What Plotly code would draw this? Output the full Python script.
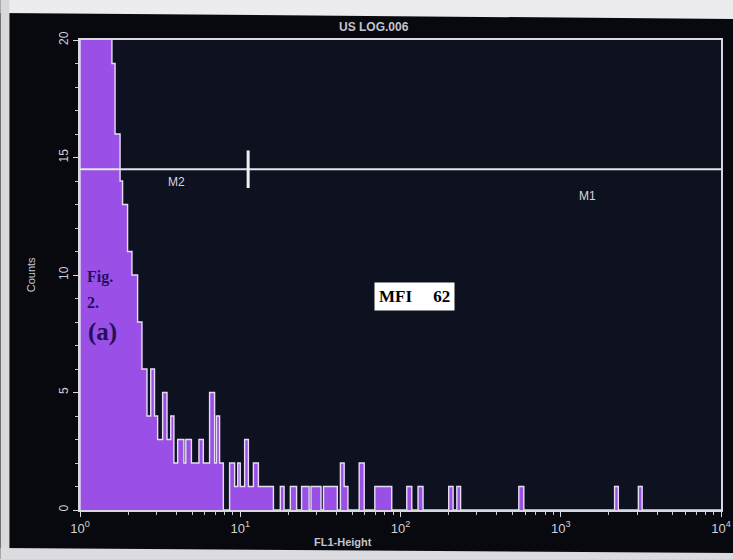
import numpy as np
import plotly.graph_objects as go

W, H = 743, 559
ML, MR, MT, MB = 80, 18, 40, 49
PW, PH = W - ML - MR, H - MT - MB

# ---- data: histogram runs (start channel of 1024 log channels, counts) ----
run_start_channel = [0, 51, 56, 64, 68, 76, 83, 92, 99, 107, 113, 119, 124, 132, 139, 145,
                     150, 156, 166, 169, 178, 190, 197, 207, 215, 218, 223, 229, 239, 247,
                     252, 256, 263, 269, 277, 285, 309, 320, 326, 336, 346, 354, 366, 369,
                     385, 389, 411, 416, 422, 428, 446, 454, 471, 498, 522, 530, 540, 548,
                     589, 596, 602, 608, 701, 709, 854, 860, 892, 898]
run_counts = [45, 19, 16, 14, 13, 11, 10, 8, 6, 4, 6, 4, 3, 5, 3, 4,
              2, 3, 2, 3, 2, 3, 2, 5, 2, 4, 2, 0, 2, 1,
              2, 1, 3, 1, 2, 1, 0, 1, 0, 1, 0, 1, 0, 1,
              0, 1, 0, 2, 1, 0, 2, 0, 1, 0, 1, 0, 1, 0,
              1, 0, 1, 0, 1, 0, 1, 0, 1, 0]
n_channels = 1024
channels_per_decade = 256

# markers (gates)
marker_level = 14.5
marker_split = 11.2
marker_labels = ["M2", "M1"]
marker_label_pos = [(0.6, 13.95), (3.17, 13.35)]  # (log10 FL1, counts)

y_ticks = [0, 5, 10, 15, 20]
x_ticks = [1, 10, 100, 1000, 10000]
x_ticklabels = ["10<sup>0</sup>", "10<sup>1</sup>", "10<sup>2</sup>", "10<sup>3</sup>", "10<sup>4</sup>"]

title_text = "US LOG.006"
x_title = "FL1-Height"
y_title = "Counts"
mfi_text = "MFI&nbsp;&nbsp;&nbsp;&nbsp;&nbsp;62"

# ---- build step outline ----
ends = run_start_channel[1:] + [n_channels]
xs, ys = [1.0], [0]
for s, e, c in zip(run_start_channel, ends, run_counts):
    xs += [10 ** (s / channels_per_decade), 10 ** (e / channels_per_decade)]
    ys += [c, c]
xs.append(10 ** (n_channels / channels_per_decade))
ys.append(0)

fig = go.Figure()
fig.add_trace(go.Scatter(x=xs, y=ys, mode="lines", fill="tozeroy",
                         fillcolor="#9a4fe6", line=dict(color="#e6dcf2", width=1.4),
                         hoverinfo="skip"))
fig.add_trace(go.Scatter(x=[1, 10000], y=[marker_level, marker_level], mode="lines",
                         line=dict(color="#e4e4ec", width=2), hoverinfo="skip"))
fig.add_trace(go.Scatter(x=[marker_split, marker_split], y=[marker_level - 0.8, marker_level + 0.8],
                         mode="lines", line=dict(color="#f0f0f4", width=3), hoverinfo="skip"))

minor_x = [m * 10 ** k for k in range(4) for m in range(2, 10)]

fig.update_layout(
    width=W, height=H, autosize=False, margin=dict(l=ML, r=MR, t=MT, b=MB),
    paper_bgcolor="#07090f", plot_bgcolor="#0e1220", showlegend=False,
    font=dict(family="Liberation Sans, Arial", color="#cfcfd6"),
)
fig.update_xaxes(type="log", range=[0, 4], tickvals=x_ticks, ticktext=x_ticklabels,
                 showgrid=False, zeroline=False, showline=True, mirror=True,
                 linecolor="#d8d8e0", linewidth=2, ticks="outside", ticklen=5,
                 tickcolor="#d8d8e0", tickfont=dict(size=13, color="#d0d0d8"),
                 minor=dict(tickvals=minor_x, ticks="outside", ticklen=3, tickcolor="#c8c8d0"))
fig.update_yaxes(range=[0, 20], tickvals=y_ticks, showgrid=False, zeroline=False,
                 showline=True, mirror=True, linecolor="#d8d8e0", linewidth=2,
                 ticks="outside", ticklen=5, tickcolor="#d8d8e0", tickangle=-90,
                 tickfont=dict(size=12, color="#d0d0d8"),
                 minor=dict(dtick=1, ticks="outside", ticklen=3, tickcolor="#c8c8d0"))

def px2paper(px, py):
    return (px - ML) / PW, (H - MB - py) / PH

ann = []
for lab, (lx, ly) in zip(marker_labels, marker_label_pos):
    ann.append(dict(x=lx, y=ly, xref="x", yref="y", text=lab, showarrow=False,
                    xanchor="center", yanchor="middle", font=dict(size=12, color="#d6d6de")))

def add_text(txt, px, py, size, color, family="Liberation Sans, Arial", angle=0,
             xanchor="center", **kw):
    tx, ty = px2paper(px, py)
    ann.append(dict(x=tx, y=ty, xref="paper", yref="paper", text=txt, showarrow=False,
                    xanchor=xanchor, yanchor="middle", textangle=angle,
                    font=dict(size=size, color=color, family=family), **kw))

add_text("<b>%s</b>" % title_text, 376, 27, 12, "#c4c4cc")
add_text("<b>%s</b>" % x_title, 345, 542, 11, "#c4c4cc")
add_text(y_title, 31, 275, 11, "#c8c8d0", angle=-90)
serif = "Liberation Serif, Times New Roman"
add_text("<b>Fig.</b>", 85, 277, 16, "#24105a", serif, xanchor="left")
add_text("<b>2.</b>", 85, 302, 16, "#24105a", serif, xanchor="left")
add_text("<b>(a)</b>", 86, 332, 25, "#24105a", serif, xanchor="left")
add_text("<b>%s</b>" % mfi_text, 417, 296, 17, "#000000", serif,
         bgcolor="#ffffff", borderpad=4)
fig.update_layout(annotations=ann)

# photo surroundings (white/gray edges)
def poly(pts, color, layer="below"):
    path = "M " + " L ".join("%f,%f" % px2paper(a, b) for a, b in pts) + " Z"
    return dict(type="path", path=path, xref="paper", yref="paper", fillcolor=color,
                line=dict(width=0), layer=layer)

fig.update_layout(shapes=[
    poly([(0, 0), (743, 0), (743, 19), (0, 13)], "#ececee"),
    poly([(0, 0), (9, 0), (9, 559), (0, 559)], "#d9d9dc"),
    poly([(0, 548), (743, 553), (743, 559), (0, 559)], "#dcdce0"),
])

fig.write_html("out.html", config={"responsive": False})
